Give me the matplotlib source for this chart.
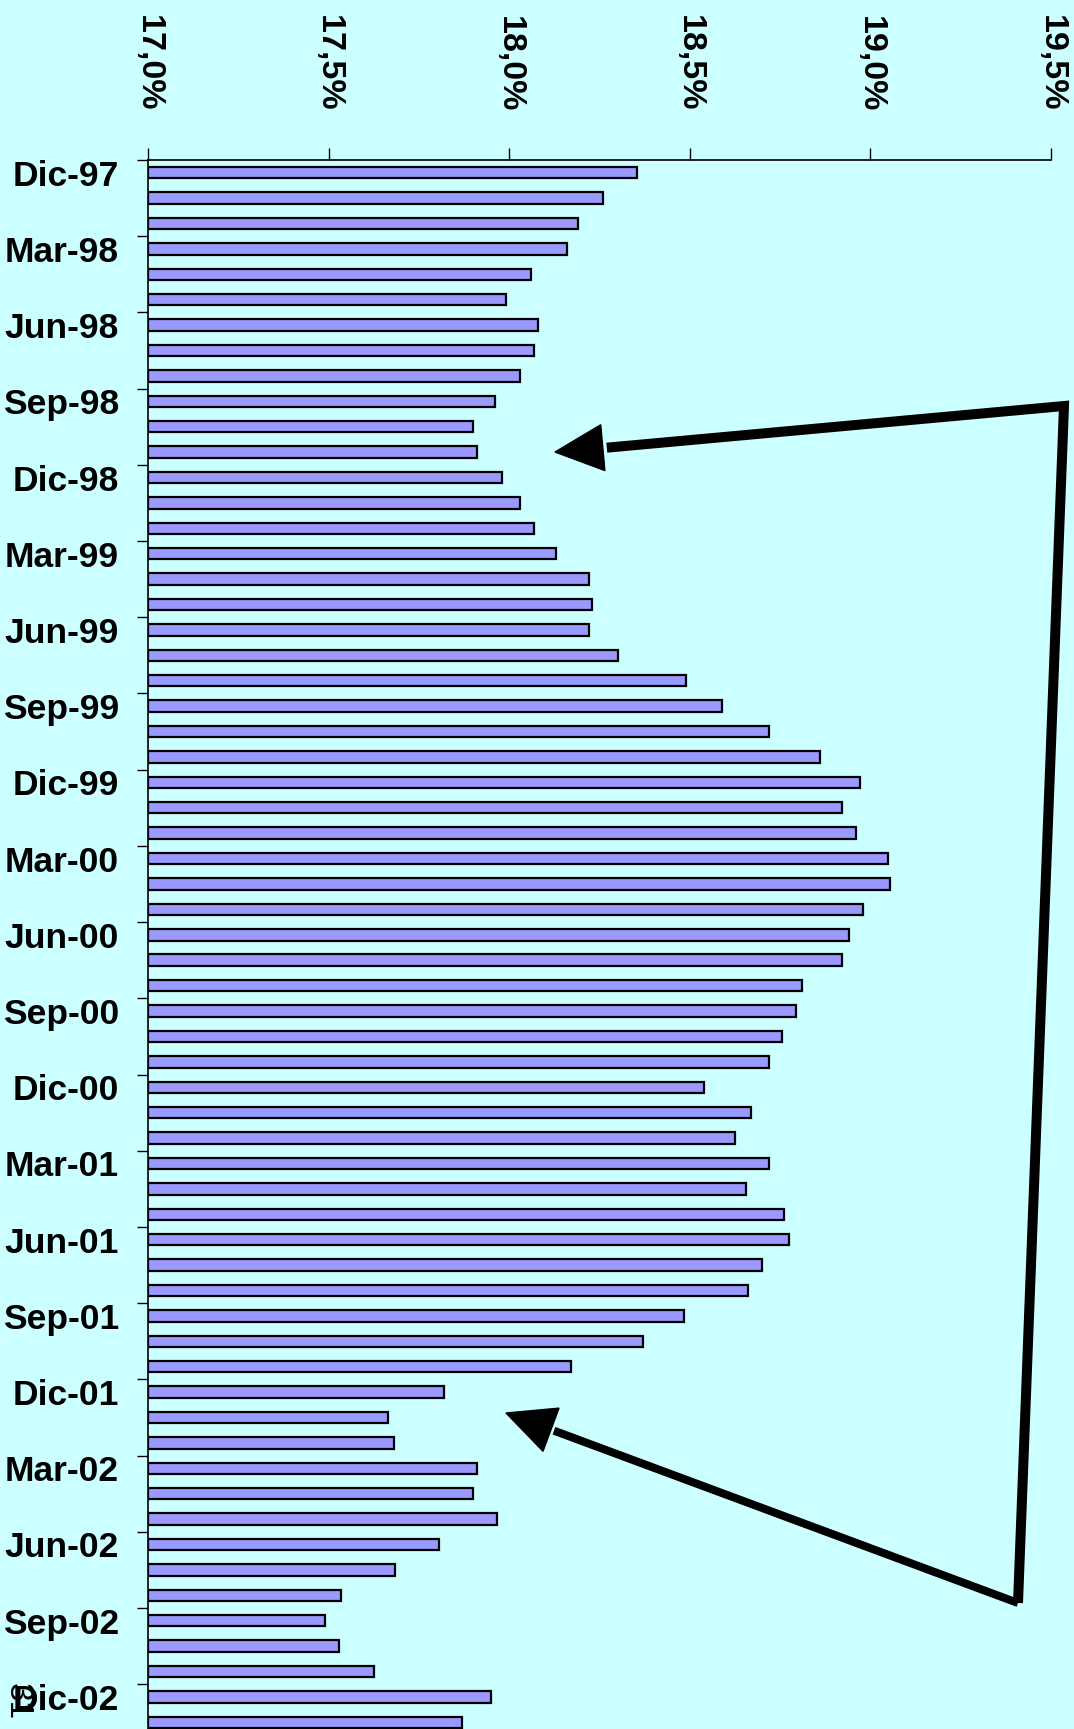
"""
Monthly rate chart, Dic-97 .. Jan-03, horizontal bars with annotation arrows
"""

import matplotlib.pyplot as plt
import numpy as np

MONTHS = ["Dic-97", "Jan-98", "Feb-98", "Mar-98", "Apr-98", "May-98", "Jun-98", "Jul-98", "Aug-98", "Sep-98",
          "Oct-98", "Nov-98", "Dic-98", "Jan-99", "Feb-99", "Mar-99", "Apr-99", "May-99", "Jun-99", "Jul-99",
          "Aug-99", "Sep-99", "Oct-99", "Nov-99", "Dic-99", "Jan-00", "Feb-00", "Mar-00", "Apr-00", "May-00",
          "Jun-00", "Jul-00", "Aug-00", "Sep-00", "Oct-00", "Nov-00", "Dic-00", "Jan-01", "Feb-01", "Mar-01",
          "Apr-01", "May-01", "Jun-01", "Jul-01", "Aug-01", "Sep-01", "Oct-01", "Nov-01", "Dic-01", "Jan-02",
          "Feb-02", "Mar-02", "Apr-02", "May-02", "Jun-02", "Jul-02", "Aug-02", "Sep-02", "Oct-02", "Nov-02",
          "Dic-02", "Jan-03"]

# values in %
VALUES = [18.355, 18.26, 18.19, 18.16, 18.06, 17.99, 18.08, 18.07, 18.03, 17.96,
          17.90, 17.91, 17.98, 18.03, 18.07, 18.13, 18.22, 18.23, 18.22, 18.30,
          18.49, 18.59, 18.72, 18.86, 18.97, 18.92, 18.96, 19.05, 19.055, 18.98,
          18.94, 18.92, 18.81, 18.795, 18.755, 18.72, 18.54, 18.67, 18.625, 18.72,
          18.655, 18.76, 18.775, 18.70, 18.66, 18.485, 18.37, 18.17, 17.82, 17.665,
          17.68, 17.91, 17.90, 17.965, 17.805, 17.685, 17.535, 17.49, 17.53, 17.625,
          17.95, 17.87]

X_TICKS = [17.0, 17.5, 18.0, 18.5, 19.0, 19.5]
X_TICK_LABELS = ["17,0%", "17,5%", "18,0%", "18,5%", "19,0%", "19,5%"]
LABEL_EVERY = 3
PAGE_NUMBER = "31"

BG = "#CCFFFF"
BAR = "#9999FF"
W, H = 1074, 1729

plt.rcParams['font.family'] = ['Liberation Sans', 'DejaVu Sans']

fig = plt.figure(figsize=(W / 100, H / 100), dpi=100, facecolor=BG)
ax = fig.add_axes([148 / W, -6 / H, (1051 - 148) / W, (1729 - 160 + 6) / H])
ax.set_facecolor(BG)

y = np.arange(len(MONTHS))
vals = np.array(VALUES)
ax.barh(y, vals - X_TICKS[0], left=X_TICKS[0], height=0.45, color=BAR,
        edgecolor="black", linewidth=1.6)

ax.set_xlim(X_TICKS[0], X_TICKS[-1])
ax.set_ylim(len(MONTHS) - 0.5, -0.5)

# x axis on top, labels reading downwards
ax.xaxis.tick_top()
ax.set_xticks(X_TICKS)
ax.set_xticklabels(X_TICK_LABELS, rotation=270, fontsize=24.5, fontweight="bold")
ax.tick_params(axis="x", direction="out", length=8.6, width=1, pad=26)

# y axis: labels on every 3rd month, tick marks at slot boundaries
lab_pos = y[::LABEL_EVERY]
ax.set_yticks(lab_pos)
ax.set_yticklabels([MONTHS[i] for i in lab_pos], fontsize=25.5, fontweight="bold")
ax.set_yticks(lab_pos - 0.5, minor=True)
ax.tick_params(axis="y", which="major", length=0, pad=21)
ax.tick_params(axis="y", which="minor", direction="out", length=8, width=1)

for side in ("right", "bottom"):
    ax.spines[side].set_visible(False)
for side in ("top", "left"):
    ax.spines[side].set_linewidth(1.2)

# overlay in pixel coordinates for the arrows
ov = fig.add_axes([0, 0, 1, 1])
ov.set_xlim(0, W)
ov.set_ylim(H, 0)
ov.axis("off")
ov.patch.set_alpha(0)


def arrow_head(tip, tail, length=48, width=46):
    tip = np.array(tip, float)
    d = tip - np.array(tail, float)
    d /= np.hypot(*d)
    n = np.array([-d[1], d[0]])
    base = tip - d * length
    pts = [tip, base + n * width / 2, base - n * width / 2]
    ov.add_patch(plt.Polygon(pts, closed=True, color="black"))
    return base


top_corner = (1064, 406)
bot_corner = (1018, 1603)
b1 = arrow_head((555, 452), top_corner)
b2 = arrow_head((506, 1413), bot_corner)
ov.plot([b1[0] + 4, top_corner[0], bot_corner[0]], [b1[1], top_corner[1], bot_corner[1]],
        color="black", lw=7.2, solid_joinstyle="miter", solid_capstyle="butt")
ov.plot([bot_corner[0], b2[0] + 3], [bot_corner[1], b2[1] + 1],
        color="black", lw=5.8, solid_capstyle="butt")

ov.text(17, 1683, PAGE_NUMBER, rotation=270, fontsize=24, ha="center", va="top")

plt.savefig("out.png", dpi=100, facecolor=BG)
plt.close()
